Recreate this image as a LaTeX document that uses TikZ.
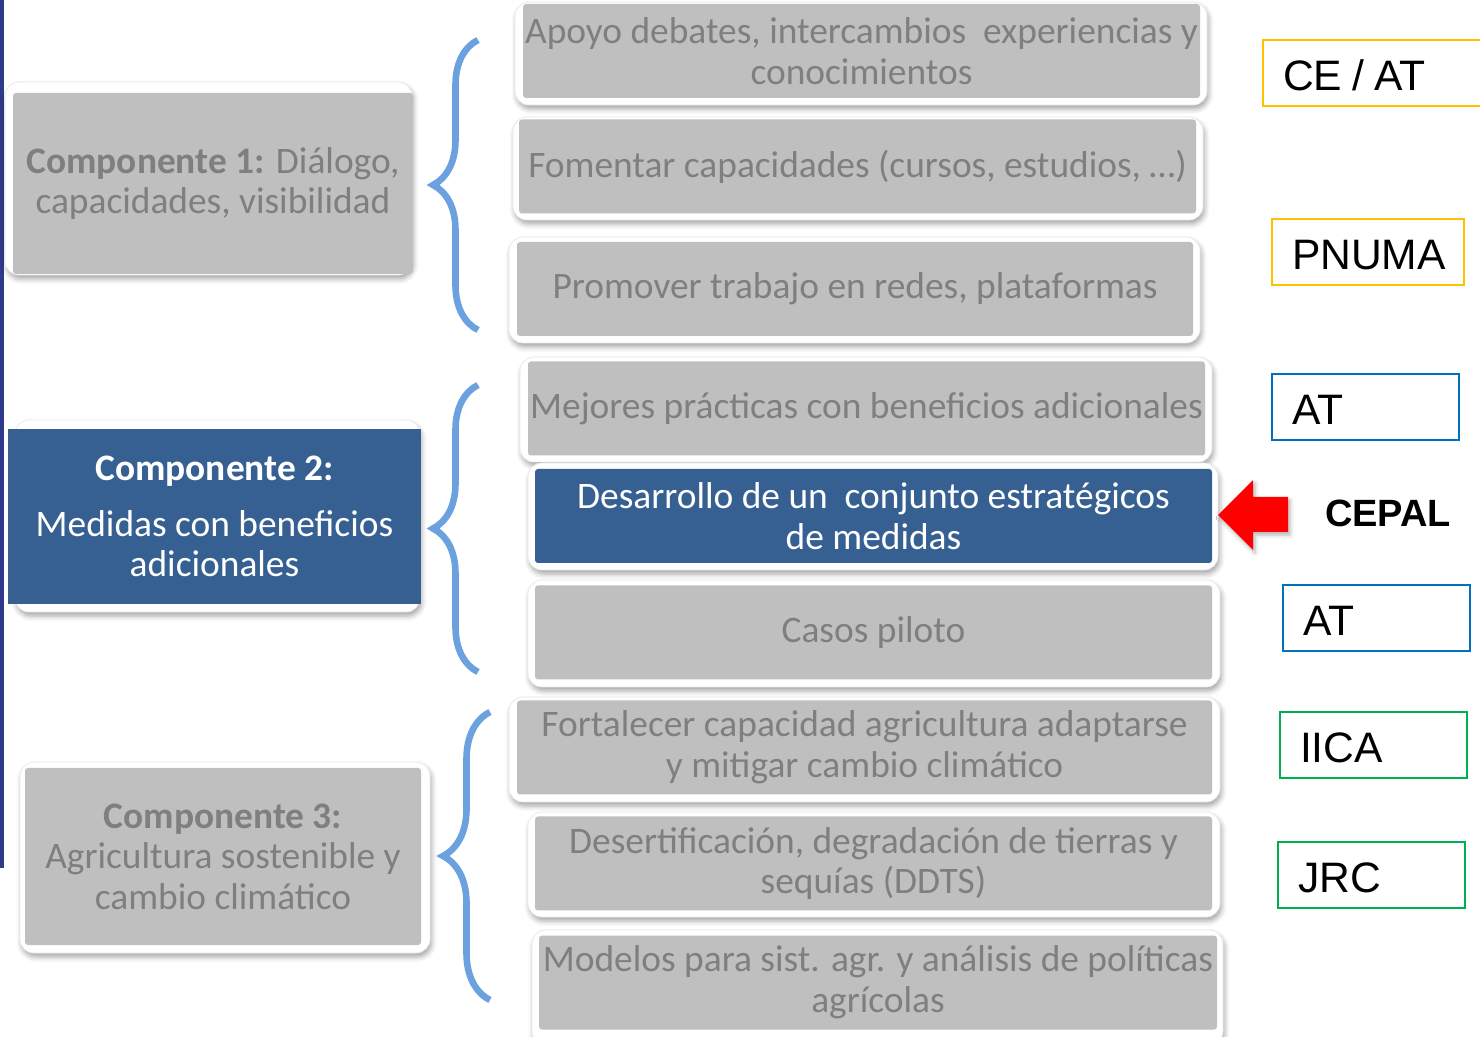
\documentclass[tikz,border=0pt]{standalone}
\usepackage{fontspec}
\setmainfont{Carlito}
\newfontfamily\arialfont{Liberation Sans}
\usetikzlibrary{fit,shadows.blur,decorations.pathreplacing}
\definecolor{boxgray}{HTML}{BFBFBF}
\definecolor{txtgray}{HTML}{7F7F7F}
\definecolor{boxblue}{HTML}{376092}
\definecolor{bracecol}{HTML}{6CA1DF}
\definecolor{navyline}{HTML}{2E3A8C}
\definecolor{tagyellow}{HTML}{FFC000}
\definecolor{tagblue}{HTML}{0070C0}
\definecolor{taggreen}{HTML}{00B050}
\tikzset{
  card/.style={fill=white, draw=black!8, line width=0.4pt, rounded corners=7pt, inner sep=0pt,
    blur shadow={shadow xshift=0.8pt, shadow yshift=-2pt, shadow blur radius=2.5pt, shadow opacity=35}},
  act/.style={fill=boxgray, text=txtgray, inner sep=0pt, align=center, rounded corners=1.5pt,
    minimum width=338.5pt, minimum height=47pt, font=\fontsize{18.7}{20.3}\selectfont},
  actblue/.style={act, fill=boxblue, text=white},
  curly/.style={draw=bracecol, line width=3.3pt, decorate, decoration={brace, amplitude=#1}},
  curly/.default=22.5pt,
  orgbox/.style={draw, line width=1pt, inner xsep=10pt, inner ysep=0pt, minimum height=33pt,
    text height=17.5pt, text depth=0pt,
    text width=73.5pt, align=left, font=\arialfont\fontsize{21.3}{25}\selectfont},
}
\begin{document}
\begin{tikzpicture}[x=0.5pt,y=-0.5pt]
  \clip (0,0) rectangle (1480,1037);
  \fill[navyline] (0,0) rectangle (4,868);

  % components
  \node[card, fit={(5,82) (412,275)}] (c1f) {};
  \node[act, minimum width=200pt, minimum height=90.5pt] (c1) at (213,183.5)
    {\textbf{Componente 1:} Diálogo,\\capacidades, visibilidad};
  \node[card, fit={(15,420) (420,612)}] (c2f) {};
  \node[actblue, rounded corners=0pt, minimum width=206.5pt, minimum height=87.5pt] (c2) at (214.5,516.5)
    {\textbf{Componente 2:}\\[7.5pt]Medidas con beneficios\\adicionales};
  \node[card, fit={(20,762) (430,953)}] (c3f) {};
  \node[act, minimum width=198pt, minimum height=88.5pt] (c3) at (223,856.5)
    {\textbf{Componente 3:}\\Agricultura sostenible y\\cambio climático};

  % braces
  \draw[curly] (478,330) -- (478,40);
  \draw[curly] (478,672) -- (478,385);
  \draw[curly=23.5pt] (490,1000) -- (490,712);

  % activities
  \node[card, fit={(515,2) (1207,105)}] (a1f) {};
  \node[act] (a1) at (861.5,51)
    {Apoyo debates, intercambios\ \ experiencias y\\conocimientos};
  \node[card, fit={(513,117) (1203,220)}] (a2f) {};
  \node[act] (a2) at (857.5,166.5)
    {Fomentar capacidades (cursos, estudios, …)};
  \node[card, fit={(509,237) (1200,343)}] (a3f) {};
  \node[act, minimum width=338pt] (a3) at (855,289)
    {Promover trabajo en redes, plataformas};
  \node[card, fit={(520,357) (1212,462)}] (a4f) {};
  \node[act] (a4) at (866.5,408.5)
    {Mejores prácticas con beneficios adicionales};
  \node[card, fit={(528,463) (1218,570)}] (a5f) {};
  \node[actblue] (a5) at (873.5,516)
    {Desarrollo de un\ \ conjunto estratégicos\\de medidas};
  \node[card, fit={(528,580) (1220,687)}] (a6f) {};
  \node[act] (a6) at (873.5,632.5)
    {Casos piloto};
  \node[card, fit={(509,697) (1220,802)}] (a7f) {};
  \node[act, minimum width=347.5pt] (a7) at (864.5,747.5)
    {Fortalecer capacidad agricultura adaptarse\\y mitigar cambio climático};
  \node[card, fit={(528,812) (1220,917)}] (a8f) {};
  \node[act] (a8) at (873.5,863.5)
    {Desertificación, degradación de tierras y\\sequías (DDTS)};
  \node[card, fit={(532,930) (1223,1045)}] (a9f) {};
  \node[act, minimum width=339pt] (a9) at (878,982.5)
    {Modelos para sist. agr. y análisis de políticas\\agrícolas};

  % partners
  \node[orgbox, draw=tagyellow, text width=98.5pt] (ce) at (1381.5,73.5) {CE\hspace{5pt}/\hspace{5pt}AT};
  \node[orgbox, draw=tagyellow, text width=76pt] (pnuma) at (1368,252.5) {PNUMA};
  \node[orgbox, draw=tagblue] (at1) at (1365.5,407) {AT};
  \node[orgbox, draw=tagblue] (at2) at (1376.5,618.5) {AT};
  \node[orgbox, draw=taggreen] (iica) at (1373.5,745) {IICA};
  \node[orgbox, draw=taggreen] (jrc) at (1371.5,875) {JRC};
  \node[font=\arialfont\bfseries\fontsize{19}{22}\selectfont] (cepal) at (1388,513) {CEPAL};

  % arrow
  \fill[red, blur shadow={shadow xshift=1pt, shadow yshift=-1.5pt, shadow opacity=30}]
    (1218,515) -- (1253,480) -- (1253,497) -- (1288,497) -- (1288,532)
    -- (1253,532) -- (1253,550) -- cycle;
\end{tikzpicture}
\end{document}
